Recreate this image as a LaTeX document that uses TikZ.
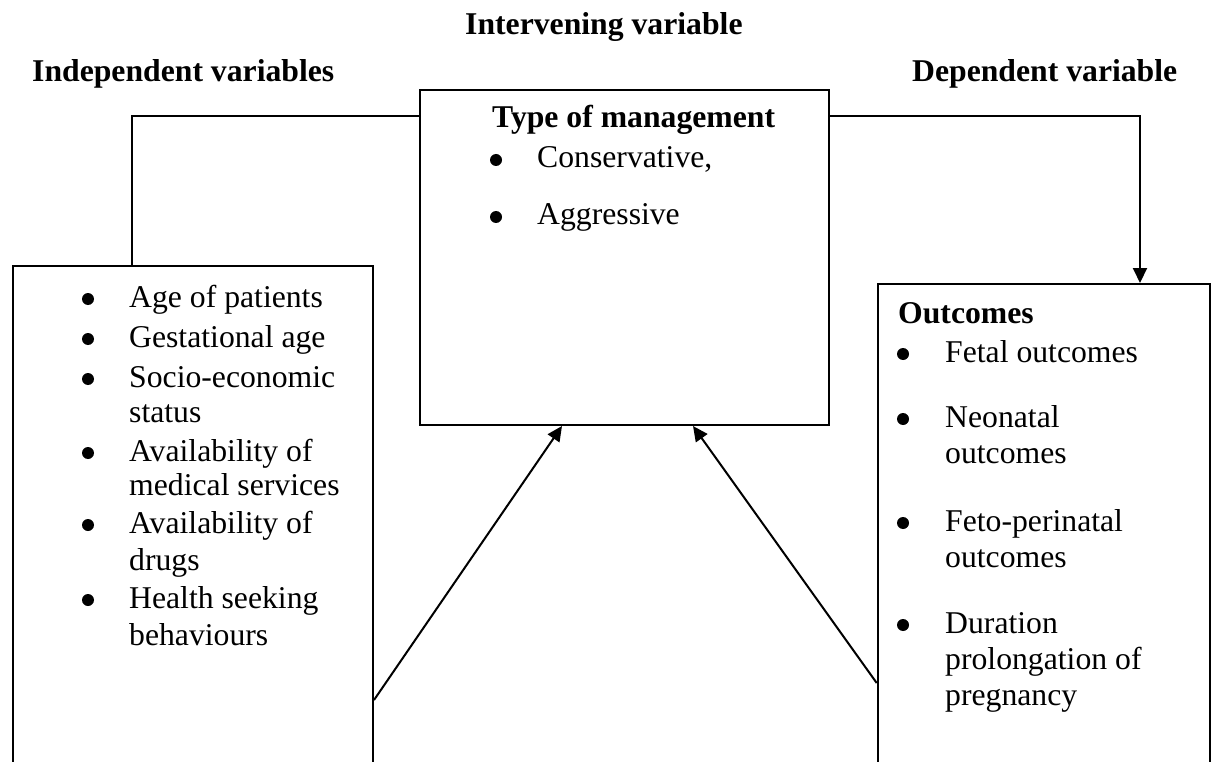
\documentclass[tikz,border=0pt]{standalone}
\usepackage{fontspec}
\setmainfont{Liberation Serif}
\usetikzlibrary{arrows.meta,calc}

\newcommand{\bodyfont}{\fontsize{31.7}{36.5}\selectfont}

\tikzset{
  box/.style={draw, line width=2pt, rectangle, inner sep=0pt, anchor=north west},
  link/.style={line width=2pt},
  arrowlink/.style={line width=2pt, -{Triangle[length=15pt,width=14pt]}},
  txt/.style={anchor=base west, inner sep=0pt, font=\bodyfont},
  head/.style={anchor=base west, inner sep=0pt, font=\bodyfont\bfseries},
  bul/.style={circle, fill, inner sep=0pt, minimum size=12pt}
}

\begin{document}
\begin{tikzpicture}[x=1pt, y=-1pt]
\useasboundingbox (0,0) rectangle (1213,762);
\clip (0,0) rectangle (1213,762);

% headings
\node[head] (hint) at (465,35) {Intervening variable};
\node[head] (hind) at (32,82) {Independent variables};
\node[head] (hdep) at (912,82) {Dependent variable};

% boxes
\node[box, minimum width=360pt, minimum height=560pt] (indep) at (12,265) {};
\node[box, minimum width=409pt, minimum height=335.3pt] (mgmt) at (419,88.7) {};
\node[box, minimum width=332.3pt, minimum height=560pt] (outc) at (876.7,283) {};

% independent variables list
\foreach \y/\t [count=\i] in {307/Age of patients, 347/Gestational age,
    387/Socio-economic, 422/status, 461/Availability of, 495/medical services,
    533/Availability of, 570/drugs, 608/Health seeking, 645/behaviours}
  \node[txt] (ind\i) at (129,\y) {\t};
\foreach \y [count=\i] in {307,347,387,461,533,608}
  \node[bul] (indb\i) at (88,\y-8) {};

% type of management
\node[head] (mhead) at (492,128) {Type of management};
\node[bul] (mb1) at (496,160) {};
\node[txt] (m1) at (537,168) {Conservative,};
\node[bul] (mb2) at (496,217) {};
\node[txt] (m2) at (537,225) {Aggressive};

% outcomes
\node[head] (ohead) at (898,323) {Outcomes};
\foreach \y/\t [count=\i] in {362/Fetal outcomes, 427/Neonatal, 463/outcomes,
    531/Feto-perinatal, 567/outcomes, 633/Duration, 669/prolongation of,
    705/pregnancy}
  \node[txt] (out\i) at (945,\y) {\t};
\foreach \y [count=\i] in {362,427,531,633}
  \node[bul] (outb\i) at (903,\y-8) {};

% connectors
\draw[link] ($(mgmt.north west)+(0,27)$) -| ($(indep.north west)+(120,0)$);
\draw[arrowlink] ($(mgmt.north east)+(0,27)$) -| ($(outc.north west)+(263.3,0)$);
\draw[arrowlink] ($(indep.north east)+(0,435)$) -- ($(mgmt.south west)+(143,0)$);
\draw[arrowlink] ($(outc.north west)+(0,400)$) -- ($(mgmt.south west)+(274,0)$);
\end{tikzpicture}
\end{document}
